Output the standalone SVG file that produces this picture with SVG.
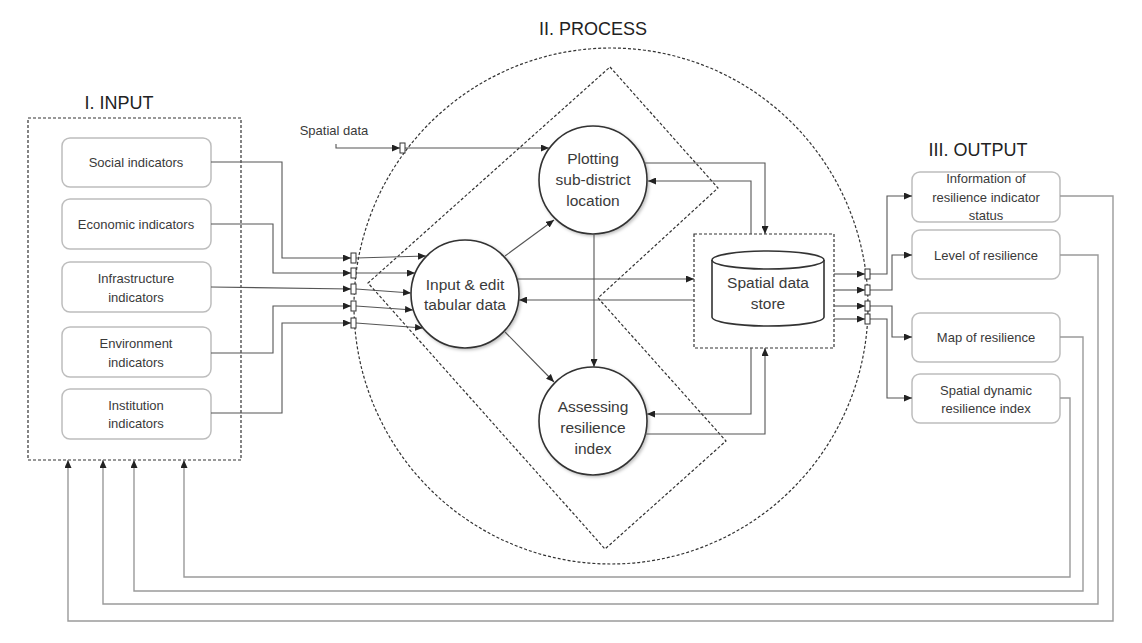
<svg xmlns="http://www.w3.org/2000/svg" width="1142" height="643" viewBox="0 0 1142 643">
<defs>
<marker id="ah" markerUnits="userSpaceOnUse" markerWidth="8" markerHeight="7" refX="8" refY="3.5" orient="auto"><path d="M0,0 L8,3.5 L0,7 z" fill="#222"/></marker>
<filter id="sh" x="-20%" y="-20%" width="150%" height="150%"><feDropShadow dx="1.5" dy="1.5" stdDeviation="1.5" flood-color="#000" flood-opacity="0.25"/></filter>
<style>
text{font-family:"Liberation Sans",Arial,sans-serif;fill:#3a3a3a;text-anchor:middle}
.title{font-size:18px;fill:#222}
.lbl{font-size:13px}
.big{font-size:15.5px}
.box{fill:#fff;stroke:#bdbdbd;stroke-width:1.5}
.dash{fill:none;stroke:#333;stroke-width:1.2;stroke-dasharray:3,2}
.proc{fill:#fff;stroke:#333;stroke-width:1.6}
.c{fill:none;stroke:#555;stroke-width:1.1}
.fb{fill:none;stroke:#9a9a9a;stroke-width:1.4}
.port{fill:#fff;stroke:#333;stroke-width:1}
</style>
</defs>
<rect width="1142" height="643" fill="#fff"/>
<text class="title" x="119" y="109">I. INPUT</text>
<text class="title" x="593" y="35">II. PROCESS</text>
<text class="title" x="978" y="156">III. OUTPUT</text>

<g id="process-boundary">
<ellipse class="dash" cx="611" cy="306" rx="257" ry="258"/>
<polygon class="dash" points="610,67 718,188 598,298 726,441 605,549 368,283"/>
</g>

<g id="input-group"><rect class="dash" x="28" y="118" width="213" height="342"/></g>
<g id="social"><rect class="box" x="62" y="138" width="149" height="49" rx="8"/><text class="lbl" x="136" y="167">Social indicators</text></g>
<g id="economic"><rect class="box" x="62" y="199" width="149" height="50" rx="8"/><text class="lbl" x="136" y="229">Economic indicators</text></g>
<g id="infrastructure"><rect class="box" x="62" y="262" width="149" height="50" rx="8"/><text class="lbl" x="136" y="283">Infrastructure</text><text class="lbl" x="136" y="302">indicators</text></g>
<g id="environment"><rect class="box" x="62" y="327" width="149" height="50" rx="8"/><text class="lbl" x="136" y="348">Environment</text><text class="lbl" x="136" y="367">indicators</text></g>
<g id="institution"><rect class="box" x="62" y="389" width="149" height="50" rx="8"/><text class="lbl" x="136" y="410">Institution</text><text class="lbl" x="136" y="428">indicators</text></g>

<g id="spatial-data-label"><text class="lbl" x="334" y="135">Spatial data</text></g>

<g id="plotting"><circle class="proc" cx="593" cy="180" r="54" filter="url(#sh)"/><text class="big" x="593" y="164">Plotting</text><text class="big" x="593" y="185">sub-district</text><text class="big" x="593" y="206">location</text></g>
<g id="input-edit"><circle class="proc" cx="465" cy="294" r="54" filter="url(#sh)"/><text class="big" x="465" y="290">Input &amp; edit</text><text class="big" x="465" y="310">tabular data</text></g>
<g id="assessing"><circle class="proc" cx="593" cy="421" r="54" filter="url(#sh)"/><text class="big" x="593" y="412">Assessing</text><text class="big" x="593" y="433">resilience</text><text class="big" x="593" y="454">index</text></g>
<g id="store">
<rect class="dash" x="694" y="234" width="140" height="114"/>
<path class="proc" d="M712,260 A56,9 0 0 1 824,260 V317 A56,9 0 0 1 712,317 Z"/>
<path fill="none" stroke="#333" stroke-width="1.6" d="M712,260 A56,9 0 0 0 824,260"/>
<text class="big" x="768" y="288">Spatial data</text><text class="big" x="768" y="309">store</text>
</g>

<g id="info"><rect class="box" x="912" y="172" width="148" height="50" rx="8"/><text class="lbl" x="986" y="183">Information of</text><text class="lbl" x="986" y="202">resilience indicator</text><text class="lbl" x="986" y="220">status</text></g>
<g id="level"><rect class="box" x="912" y="230" width="148" height="49" rx="8"/><text class="lbl" x="986" y="260">Level of resilience</text></g>
<g id="map"><rect class="box" x="912" y="313" width="148" height="49" rx="8"/><text class="lbl" x="986" y="342">Map of resilience</text></g>
<g id="dynamic"><rect class="box" x="912" y="374" width="148" height="49" rx="8"/><text class="lbl" x="986" y="395">Spatial dynamic</text><text class="lbl" x="986" y="413">resilience index</text></g>

<g id="connectors">
<path class="c" marker-end="url(#ah)" d="M211,162 H282 V258 H351"/>
<path class="c" marker-end="url(#ah)" d="M211,224 H273 V273 H351"/>
<path class="c" marker-end="url(#ah)" d="M211,287 L351,289"/>
<path class="c" marker-end="url(#ah)" d="M211,353 H273 V306 H351"/>
<path class="c" marker-end="url(#ah)" d="M211,413 H282 V323 H351"/>
<path class="c" marker-end="url(#ah)" d="M356,258 L426,256"/>
<path class="c" marker-end="url(#ah)" d="M356,273 L415,273"/>
<path class="c" marker-end="url(#ah)" d="M356,289 L411,293"/>
<path class="c" marker-end="url(#ah)" d="M356,306 L413,310"/>
<path class="c" marker-end="url(#ah)" d="M356,323 L423,328"/>
<path class="c" marker-end="url(#ah)" d="M336,144 V148 H400"/>
<path class="c" marker-end="url(#ah)" d="M405,148 H549"/>
<path class="c" marker-end="url(#ah)" d="M644,163 H765 V234"/>
<path class="c" marker-end="url(#ah)" d="M751,234 V181 H648"/>
<path class="c" marker-end="url(#ah)" d="M594,234 V367"/>
<path class="c" marker-end="url(#ah)" d="M505,256 L554,220"/>
<path class="c" marker-end="url(#ah)" d="M505,332 L554,382"/>
<path class="c" marker-end="url(#ah)" d="M518,279 H694"/>
<path class="c" marker-end="url(#ah)" d="M694,300 H519"/>
<path class="c" marker-end="url(#ah)" d="M645,434 H765 V348"/>
<path class="c" marker-end="url(#ah)" d="M751,348 V414 H647"/>
<path class="c" marker-end="url(#ah)" d="M834,274 H865"/>
<path class="c" marker-end="url(#ah)" d="M834,290 H865"/>
<path class="c" marker-end="url(#ah)" d="M834,306 H865"/>
<path class="c" marker-end="url(#ah)" d="M834,319 H865"/>
<path class="c" marker-end="url(#ah)" d="M870,274 H887 V196 H912"/>
<path class="c" marker-end="url(#ah)" d="M870,290 H892 V255 H912"/>
<path class="c" marker-end="url(#ah)" d="M870,306 H892 V337 H912"/>
<path class="c" marker-end="url(#ah)" d="M870,319 H887 V398 H912"/>
<path class="fb" marker-end="url(#ah)" d="M1060,196 H1113 V621 H68 V460"/>
<path class="fb" marker-end="url(#ah)" d="M1060,255 H1098 V604 H103 V460"/>
<path class="fb" marker-end="url(#ah)" d="M1060,337 H1083 V591 H134 V460"/>
<path class="fb" marker-end="url(#ah)" d="M1060,398 H1070 V577 H184 V460"/>
<rect class="port" x="351" y="253" width="5" height="10"/>
<rect class="port" x="351" y="268" width="5" height="10"/>
<rect class="port" x="351" y="284" width="5" height="10"/>
<rect class="port" x="351" y="301" width="5" height="10"/>
<rect class="port" x="351" y="318" width="5" height="10"/>
<rect class="port" x="400" y="143" width="5" height="10"/>
<rect class="port" x="865" y="269" width="5" height="10"/>
<rect class="port" x="865" y="285" width="5" height="10"/>
<rect class="port" x="865" y="301" width="5" height="10"/>
<rect class="port" x="865" y="314" width="5" height="10"/>
</g>
</svg>
